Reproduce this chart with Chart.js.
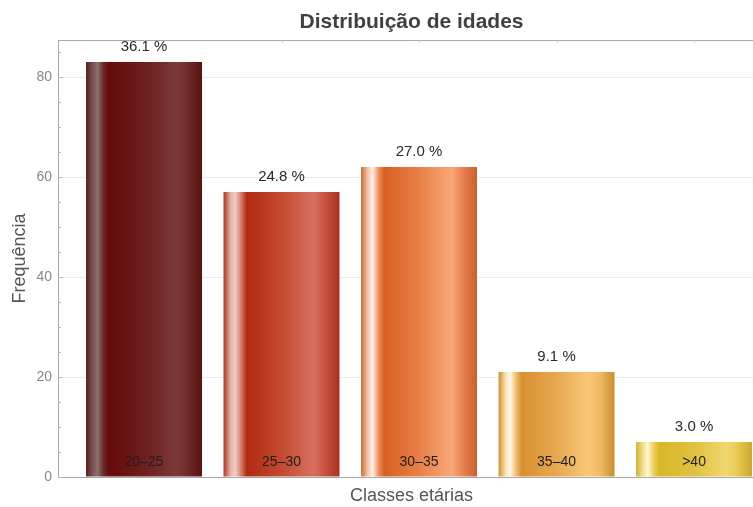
<!DOCTYPE html>
<html>
<head>
<meta charset="utf-8">
<script src="https://cdn.jsdelivr.net/npm/chart.js@4.4.0/dist/chart.umd.min.js"></script>
<style>
html,body{margin:0;padding:0;background:#fff;overflow:hidden;width:753px;height:507px;}
#wrap{width:765px;height:507px;}
</style>
</head>
<body>
<div id="wrap"><canvas id="c" width="765" height="507"></canvas></div>
<script>
const categories = ['20–25', '25–30', '30–35', '35–40', '>40'];
const positions = [1, 2, 3, 4, 5];
const frequencies = [83, 57, 62, 21, 7];
const yTickValues = [0, 20, 40, 60, 80];

const gradientStops = [
  ['#5e1e1e','#7a5555','#8a7070','#6a2a2a','#650a0a','#6e1e1e','#7a3a38','#6e2a28','#5a1010'],
  ['#a83a28','#e8b0a0','#f0d0c8','#d88070','#b02a10','#c44a30','#d87060','#c85040','#a83020'],
  ['#c86a40','#f8c8a8','#fff0e8','#f09060','#d86020','#e88048','#f8a878','#e88050','#c86030'],
  ['#d09030','#f8e0b0','#fff8e8','#f0c070','#d89030','#e8a850','#f8c878','#f0b860','#c89030'],
  ['#d0b030','#f0e090','#fff8d0','#f0d060','#d8b828','#e0c040','#f0d870','#e8c850','#c8a830']
];
const stopPos = [0, 0.06, 0.1, 0.15, 0.2, 0.5, 0.78, 0.88, 1];
const BAR_PCT = 0.8436;
const FONT = '"Liberation Sans", Arial, sans-serif';

const total = frequencies.reduce((a, b) => a + b, 0);

function barFill(ctx) {
  const chart = ctx.chart;
  const xs = chart.scales && chart.scales.x;
  if (!xs || ctx.dataIndex === undefined) return gradientStops[0][4];
  const i = ctx.dataIndex;
  const cx = xs.getPixelForValue(positions[i]);
  const step = Math.abs(xs.getPixelForValue(2) - xs.getPixelForValue(1));
  const w = step * BAR_PCT;
  if (!isFinite(cx) || !isFinite(w)) return gradientStops[i][4];
  const g = chart.ctx.createLinearGradient(cx - w / 2, 0, cx + w / 2, 0);
  gradientStops[i].forEach((c, k) => g.addColorStop(stopPos[k], c));
  return g;
}

const decor = {
  id: 'decor',
  afterDraw(chart) {
    const c = chart.ctx, a = chart.chartArea, ys = chart.scales.y, xs = chart.scales.x;
    c.save();
    c.strokeStyle = '#a8a8a8';
    c.lineWidth = 1;
    c.beginPath();
    c.moveTo(a.left, a.top + 0.5);
    c.lineTo(a.right, a.top + 0.5);
    c.stroke();
    c.strokeStyle = '#c8c8c8';
    positions.forEach(p => {
      const x = Math.round(xs.getPixelForValue(p)) + 0.5;
      c.beginPath(); c.moveTo(x, a.top); c.lineTo(x, a.top + 3); c.stroke();
    });
    c.strokeStyle = '#b8b8b8';
    for (let v = 0; v <= ys.max; v += 5) {
      const y = Math.round(ys.getPixelForValue(v)) + 0.5;
      const len = v % 20 === 0 ? 5 : 3;
      c.beginPath(); c.moveTo(a.left, y); c.lineTo(a.left + len, y); c.stroke();
    }
    const meta = chart.getDatasetMeta(0);
    meta.data.forEach((bar, i) => {
      c.fillStyle = '#2a2a2a';
      c.font = '15px ' + FONT;
      c.textAlign = 'center';
      c.textBaseline = 'middle';
      const pct = (frequencies[i] / total * 100).toFixed(1) + ' %';
      c.fillText(pct, bar.x, bar.y - 15);
      c.font = '14px ' + FONT;
      c.fillStyle = '#1e1e1e';
      c.fillText(categories[i], bar.x, ys.getPixelForValue(0) - 15);
    });
    c.restore();
  }
};

new Chart(document.getElementById('c'), {
  type: 'bar',
  data: {
    datasets: [{
      data: positions.map((p, i) => ({ x: p, y: frequencies[i] })),
      backgroundColor: barFill,
      borderWidth: 0,
      barPercentage: BAR_PCT,
      categoryPercentage: 1
    }]
  },
  options: {
    responsive: false,
    animation: false,
    devicePixelRatio: 1,
    layout: { padding: { left: 0, right: 0, top: 0, bottom: 0 } },
    plugins: {
      legend: { display: false },
      tooltip: { enabled: false },
      title: {
        display: true,
        text: 'Distribuição de idades',
        fullSize: false,
        color: '#404040',
        font: { family: FONT, size: 21, weight: 'bold' },
        padding: { top: 10, bottom: 4.8 }
      }
    },
    scales: {
      x: {
        type: 'linear',
        offset: false,
        min: 0.3745,
        max: 5.516,
        afterBuildTicks(s) {
          s.ticks = positions.map(p => ({ value: p }));
        },
        grid: { display: false },
        border: { display: true, color: '#a8a8a8' },
        ticks: { display: false },
        title: {
          display: true,
          text: 'Classes etárias',
          color: '#555',
          font: { family: FONT, size: 18 },
          padding: { top: 7, bottom: 0 }
        },
        afterFit(s) { s.height = 30; }
      },
      y: {
        min: 0,
        max: 87.4,
        afterBuildTicks(s) {
          s.ticks = s.ticks.filter(t => yTickValues.includes(t.value));
        },
        ticks: {
          stepSize: 20,
          color: '#888',
          padding: 6,
          font: { family: FONT, size: 14 }
        },
        grid: { color: '#ececec', drawTicks: false },
        border: { display: true, color: '#a8a8a8' },
        title: {
          display: true,
          text: 'Frequência',
          color: '#555',
          font: { family: FONT, size: 18 },
          padding: { top: 9, bottom: 0 }
        },
        afterFit(s) { s.width = 58; }
      }
    }
  },
  plugins: [decor]
});
</script>
</body>
</html>
